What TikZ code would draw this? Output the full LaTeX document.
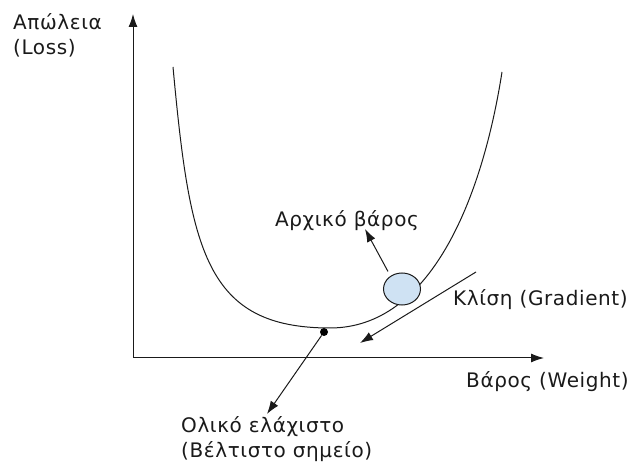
\documentclass[tikz,border=0pt]{standalone}
\usepackage{fontspec}
\setmainfont{DejaVu Sans}[LetterSpace=3]
\usetikzlibrary{arrows.meta,shapes.geometric}
\definecolor{ballblue}{HTML}{CFE2F3}
\definecolor{ink}{HTML}{1A1A1A}
\tikzset{
  arr/.style={draw=ink, line width=1pt, -{Latex[length=13pt,width=9pt]}},
  lbl/.style={font=\fontsize{20}{25}\selectfont, text=ink, inner sep=0pt},
}
\begin{document}
\begin{tikzpicture}[x=1pt,y=-1pt]
\useasboundingbox (0,0) rectangle (633,465);
% axes
\coordinate (O) at (133,358);
\coordinate (ytop) at (133,14);
\coordinate (xend) at (544,358);
\draw[arr] (O) -- (ytop);
\draw[arr] (O) -- (xend);
% loss curve
\draw[draw=ink, line width=1pt] (173,67) .. controls (190,250) and (205,328) .. (330,328)
  .. controls (430,328) and (482,200) .. (502,72);
% ball
\node[ellipse, draw=ink, fill=ballblue, line width=1pt, minimum width=37pt, minimum height=32pt, inner sep=0pt] (ball) at (402,289) {};
% minimum dot
\node[circle, fill=black, minimum size=8pt, inner sep=0pt] (dot) at (324,332) {};
% tangent
\coordinate (tstart) at (476,272);
\coordinate (tend) at (360,343);
\draw[arr] (tstart) -- (tend);
% labels
\node[lbl, anchor=west, align=left] (loss) at (13,35) {Απώλεια\\(Loss)};
\node[lbl, anchor=center] (init) at (347,221) {Αρχικό βάρος};
\node[lbl, anchor=west] (grad) at (453,300) {Κλίση (Gradient)};
\node[lbl, anchor=west] (weight) at (466,382) {Βάρος (Weight)};
\node[lbl, anchor=north west, align=left] (opt) at (181,416) {Ολικό ελάχιστο\\(Βέλτιστο σημείο)};
% arrows
\coordinate (inittip) at (365,229);
\draw[arr] (ball.north) ++(-14,-1) -- (inittip);
\coordinate (opttip) at (267,414);
\draw[arr] (dot) -- (opttip);
\end{tikzpicture}
\end{document}
